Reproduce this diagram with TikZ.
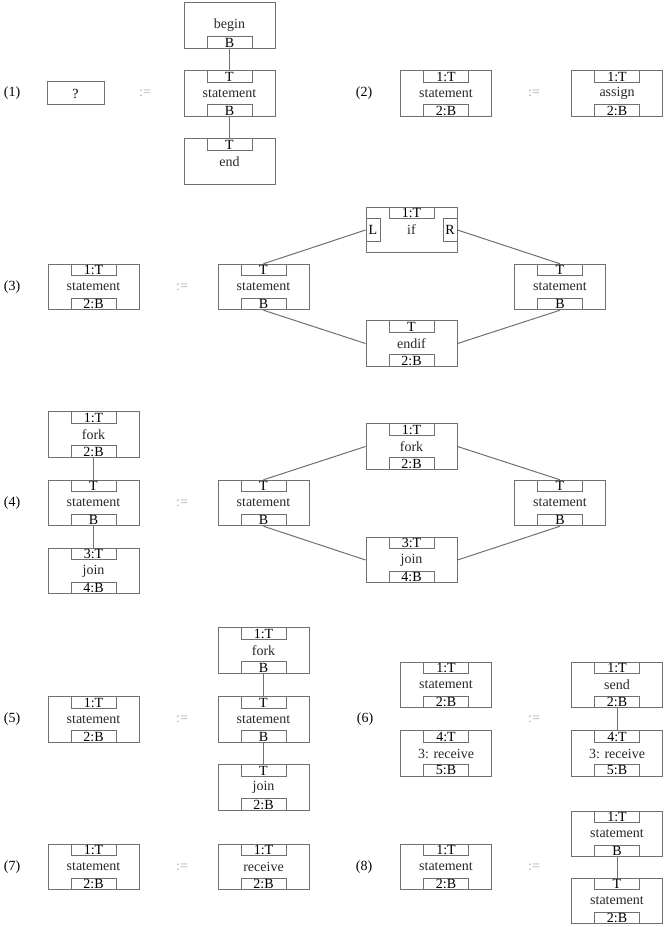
\documentclass[tikz,border=0pt]{standalone}
\usepackage{fontspec}
\setmainfont{Liberation Serif}
\definecolor{edgegray}{RGB}{112,112,112}
\definecolor{defgray}{RGB}{170,170,170}
\definecolor{textgray}{RGB}{40,40,40}
% one block: name, x, y, text, top port, bottom port
\newcommand{\gblock}[6]{%
  \node[blk] (#1) at (#2,#3) {#4};
  \if\relax\detokenize{#5}\relax\else
    \node[port, anchor=north] (#1t) at (#1.north) {#5};\fi
  \if\relax\detokenize{#6}\relax\else
    \node[port, anchor=south] (#1b) at (#1.south) {#6};\fi
}
\begin{document}
\begin{tikzpicture}[x=0.75pt, y=-0.75pt,
    blk/.style={draw=edgegray, line width=0.75pt, minimum width=68.25pt, minimum height=34.1pt,
      inner sep=0pt, text=textgray, font=\fontsize{10.5}{12}\selectfont},
    port/.style={draw=edgegray, line width=0.75pt, minimum width=33.75pt, minimum height=8.6pt,
      inner sep=0pt, font=\fontsize{10.5}{10}\selectfont},
    sideport/.style={port, minimum width=10.5pt, minimum height=17.25pt},
    wire/.style={draw=edgegray, line width=0.75pt},
    def/.style={text=defgray, font=\fontsize{10.5}{12}\selectfont},
    num/.style={font=\fontsize{10.5}{12}\selectfont}]
  \useasboundingbox (0,0) rectangle (665,927);

  % (1)
  \node[num] (n1) at (12,93.5) {(1)};
  \node[draw=edgegray, line width=0.75pt, minimum width=42.75pt, minimum height=17.25pt,
    inner sep=0pt, font=\fontsize{10.5}{12}\selectfont] (r1q) at (75.5,93.5) {?};
  \node[def] (d1) at (145,93.5) {:=};
  \gblock{r1begin}{229.5}{25.5}{begin}{}{B}
  \gblock{r1stmt}{229.5}{93.5}{statement}{T}{B}
  \gblock{r1end}{229.5}{161.5}{end}{T}{}
  \draw[wire] (r1beginb.south) -- (r1stmtt.north);
  \draw[wire] (r1stmtb.south) -- (r1endt.north);

  % (2)
  \node[num] (n2) at (364,93.5) {(2)};
  \gblock{r2lhs}{446}{93.5}{statement}{1:T}{2:B}
  \node[def] (d2) at (534,93.5) {:=};
  \gblock{r2assign}{617}{93.5}{assign}{1:T}{2:B}

  % (3)
  \node[num] (n3) at (12,287) {(3)};
  \gblock{r3lhs}{93.5}{287}{statement}{1:T}{2:B}
  \node[def] (d3) at (182,287) {:=};
  \gblock{r3if}{411.5}{230}{if}{1:T}{}
  \node[sideport, anchor=west] (r3ifl) at (r3if.west) {L};
  \node[sideport, anchor=east] (r3ifr) at (r3if.east) {R};
  \gblock{r3left}{263.5}{287}{statement}{T}{B}
  \gblock{r3right}{560}{287}{statement}{T}{B}
  \gblock{r3endif}{411.5}{343.5}{endif}{T}{2:B}
  \draw[wire] (r3leftt.north) -- (r3ifl.west);
  \draw[wire] (r3ifr.east) -- (r3rightt.north);
  \draw[wire] (r3leftb.south) -- (r3endif.west);
  \draw[wire] (r3endif.east) -- (r3rightb.south);

  % (4)
  \node[num] (n4) at (12,503) {(4)};
  \gblock{r4fork}{93.5}{434.5}{fork}{1:T}{2:B}
  \gblock{r4stmt}{93.5}{503}{statement}{T}{B}
  \gblock{r4join}{93.5}{571}{join}{3:T}{4:B}
  \draw[wire] (r4forkb.south) -- (r4stmtt.north);
  \draw[wire] (r4stmtb.south) -- (r4joint.north);
  \node[def] (d4) at (182,503) {:=};
  \gblock{r4rfork}{411.5}{446.5}{fork}{1:T}{2:B}
  \gblock{r4left}{263.5}{503}{statement}{T}{B}
  \gblock{r4right}{560}{503}{statement}{T}{B}
  \gblock{r4rjoin}{411.5}{560}{join}{3:T}{4:B}
  \draw[wire] (r4rfork.west) -- (r4leftt.north);
  \draw[wire] (r4rfork.east) -- (r4rightt.north);
  \draw[wire] (r4leftb.south) -- (r4rjoin.west);
  \draw[wire] (r4rjoin.east) -- (r4rightb.south);

  % (5)
  \node[num] (n5) at (12,719.5) {(5)};
  \gblock{r5lhs}{93.5}{719.5}{statement}{1:T}{2:B}
  \node[def] (d5) at (182,719.5) {:=};
  \gblock{r5fork}{263.5}{650.5}{fork}{1:T}{B}
  \gblock{r5stmt}{263.5}{719.5}{statement}{T}{B}
  \gblock{r5join}{263.5}{787.5}{join}{T}{2:B}
  \draw[wire] (r5forkb.south) -- (r5stmtt.north);
  \draw[wire] (r5stmtb.south) -- (r5joint.north);

  % (6)
  \node[num] (n6) at (365,719.5) {(6)};
  \gblock{r6stmt}{446}{685}{statement}{1:T}{2:B}
  \gblock{r6recv}{446}{753.5}{3: receive}{4:T}{5:B}
  \node[def] (d6) at (534,719.5) {:=};
  \gblock{r6send}{617}{685}{send}{1:T}{2:B}
  \gblock{r6rrecv}{617}{753.5}{3: receive}{4:T}{5:B}
  \draw[wire] (r6sendb.south) -- (r6rrecvt.north);

  % (7)
  \node[num] (n7) at (12,867) {(7)};
  \gblock{r7lhs}{93.5}{867}{statement}{1:T}{2:B}
  \node[def] (d7) at (182,867) {:=};
  \gblock{r7recv}{263.5}{867}{receive}{1:T}{2:B}

  % (8)
  \node[num] (n8) at (364,867) {(8)};
  \gblock{r8lhs}{446}{867}{statement}{1:T}{2:B}
  \node[def] (d8) at (534,867) {:=};
  \gblock{r8top}{617}{834}{statement}{1:T}{B}
  \gblock{r8bot}{617}{901}{statement}{T}{2:B}
  \draw[wire] (r8topb.south) -- (r8bott.north);
\end{tikzpicture}
\end{document}
